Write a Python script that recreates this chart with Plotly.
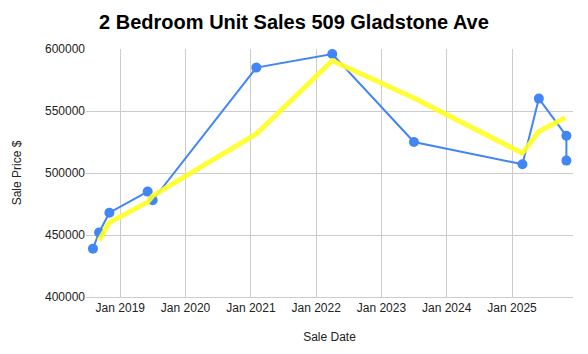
import plotly.graph_objects as go

sale_dates = ["2018-08-01", "2018-09-04", "2018-11-01", "2019-06-03", "2019-07-01",
              "2021-01-31", "2022-04-01", "2023-07-02", "2025-02-28", "2025-05-31",
              "2025-11-01", "2025-11-01"]
sale_prices = [439000, 452000, 468000, 485000, 478000,
               585000, 596000, 525000, 507000, 560000,
               530000, 510000]

trend_dates = ["2018-09-04", "2018-11-01", "2019-06-03", "2019-07-01", "2021-01-31",
               "2022-04-01", "2023-07-02", "2025-02-28", "2025-05-31", "2025-10-25"]
trend_prices = [445500, 460000, 476500, 481500, 531500,
                590500, 560500, 516000, 533500, 544500]

title_text = "2 Bedroom Unit Sales 509 Gladstone Ave"
x_title = "Sale Date"
y_title = "Sale Price $"

fig = go.Figure()
fig.add_trace(go.Scatter(
    x=sale_dates, y=sale_prices, mode="lines+markers",
    line=dict(color="#4285F4", width=2),
    marker=dict(color="#4285F4", size=10),
    hoverinfo="skip", showlegend=False,
))
fig.add_trace(go.Scatter(
    x=trend_dates, y=trend_prices, mode="lines",
    line=dict(color="#ffff22", width=5),
    opacity=0.9,
    hoverinfo="skip", showlegend=False,
))

font_family = "Liberation Sans, Arial, sans-serif"
fig.update_layout(
    width=588, height=354,
    margin=dict(l=86, r=15, t=49, b=57),
    paper_bgcolor="white", plot_bgcolor="white",
    font=dict(family=font_family, size=12, color="#222222"),
    title=dict(text="<b>" + title_text + "</b>", x=0.5, xanchor="center",
               xref="container", y=1 - 22 / 354, yanchor="middle",
               font=dict(size=20, color="#000000", family=font_family)),
    xaxis=dict(
        range=["2018-06-23", "2025-12-08"],
        tickformat="%b %Y", dtick="M12", tick0="2019-01-01",
        showgrid=True, gridcolor="#cccccc", gridwidth=1,
        showline=True, linecolor="#cccccc", linewidth=1,
        ticks="", zeroline=False,
        title=dict(text=x_title, font=dict(size=12), standoff=18),
        tickfont=dict(size=12, color="#222222"),
    ),
    yaxis=dict(
        range=[400000, 600000],
        tickvals=[400000, 450000, 500000, 550000, 600000],
        ticktext=["400000", "450000", "500000", "550000", "600000"],
        showgrid=True, gridcolor="#cccccc", gridwidth=1,
        showline=False, zeroline=False, ticks="",
        title=dict(text=y_title, font=dict(size=12), standoff=20),
        tickfont=dict(size=12, color="#222222"),
    ),
)

fig.write_html("out.html", config={"displayModeBar": False})
